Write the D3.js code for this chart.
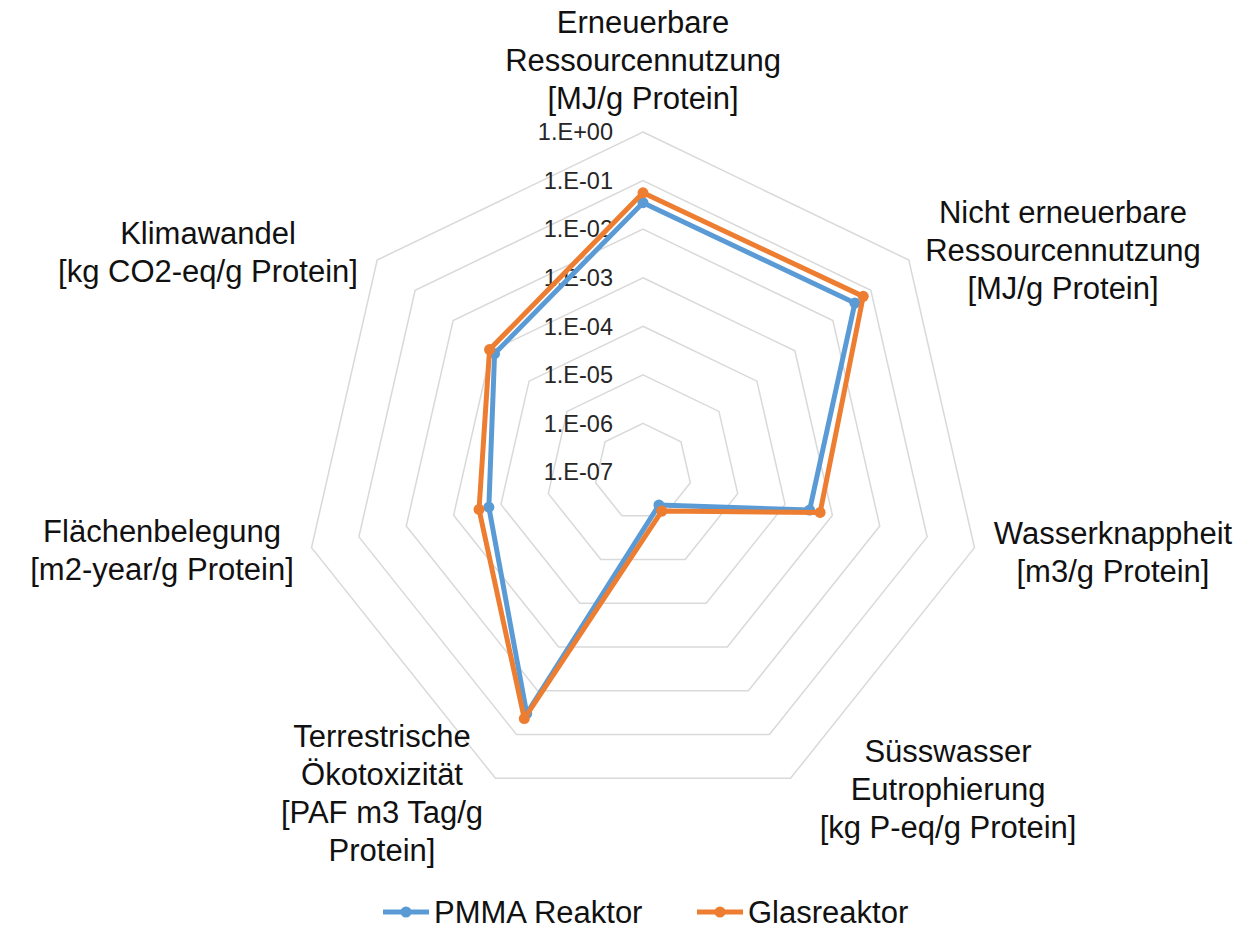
<!DOCTYPE html>
<html>
<head>
<meta charset="utf-8">
<script src="https://cdn.jsdelivr.net/npm/d3@7"></script>
<style>
  body { margin: 0; background: #fff; }
  text { font-family: "Liberation Sans", Arial, sans-serif; }
</style>
</head>
<body>
<div id="chart"></div>
<script>
// categories (one entry per axis, lines of the label)
var categories = [
  ["Erneuerbare", "Ressourcennutzung", "[MJ/g Protein]"],
  ["Nicht erneuerbare", "Ressourcennutzung", "[MJ/g Protein]"],
  ["Wasserknappheit", "[m3/g Protein]"],
  ["Süsswasser", "Eutrophierung", "[kg P-eq/g Protein]"],
  ["Terrestrische", "Ökotoxizität", "[PAF m3 Tag/g", "Protein]"],
  ["Flächenbelegung", "[m2-year/g Protein]"],
  ["Klimawandel", "[kg CO2-eq/g Protein]"]
];
var pmma = [0.035, 0.038, 3.3e-4, 5.7e-7, 0.033, 1.8e-4, 8.1e-4];
var glas = [0.056, 0.063, 5.5e-4, 7.8e-7, 0.043, 2.9e-4, 1.1e-3];
var tickValues = [1e-7, 1e-6, 1e-5, 1e-4, 1e-3, 1e-2, 1e-1, 1];
var tickLabels = ["1.E-07", "1.E-06", "1.E-05", "1.E-04", "1.E-03", "1.E-02", "1.E-01", "1.E+00"];
var seriesNames = ["PMMA Reaktor", "Glasreaktor"];
var colors = ["#5b9bd5", "#ed7d31"];

// label centres relative to chart centre
var labelOffsets = [[0, -412], [420, -222], [470, 80], [305, 317], [-261, 321], [-481, 78], [-435, -220]];

var w = 1260, h = 929;
var cx = 643, cy = 472, R = 340;
var n = categories.length;

var svg = d3.select('#chart')
  .append('svg')
    .attr('width', w)
    .attr('height', h);

var r = d3.scaleLog().domain([1e-7, 1]).range([0, R]);
var angle = i => -Math.PI / 2 + i * 2 * Math.PI / n;

var g = svg.append('g').attr('transform', 'translate(' + cx + ',' + cy + ')');

// grid rings
var ringLine = d3.lineRadial()
  .angle((d, i) => i * 2 * Math.PI / n)
  .radius(d => d)
  .curve(d3.curveLinearClosed);

g.selectAll('.ring')
  .data(tickValues.slice(1))
  .enter()
  .append('path')
    .attr('d', d => ringLine(d3.range(n).map(() => r(d))))
    .style('fill', 'none')
    .style('stroke', '#d9d9d9')
    .style('stroke-width', '1.5px');

// tick labels
g.selectAll('.tick')
  .data(tickValues)
  .enter()
  .append('text')
    .attr('x', -30)
    .attr('y', d => -r(d))
    .attr('dy', '0.35em')
    .attr('text-anchor', 'end')
    .style('font-size', '23.5px')
    .style('fill', '#262626')
    .text((d, i) => tickLabels[i]);

// series
var pt = (v, i) => [r(v) * Math.cos(angle(i)), r(v) * Math.sin(angle(i))];
[pmma, glas].forEach(function(series, s) {
  var pts = series.map(pt);
  g.append('path')
    .attr('d', d3.line().curve(d3.curveLinearClosed)(pts))
    .style('fill', 'none')
    .style('stroke', colors[s])
    .style('stroke-width', '5px')
    .style('stroke-linejoin', 'round');
  g.selectAll('.dot' + s)
    .data(pts)
    .enter()
    .append('circle')
      .attr('cx', d => d[0])
      .attr('cy', d => d[1])
      .attr('r', 5.5)
      .style('fill', colors[s]);
});

// category labels
categories.forEach(function(lines, i) {
  var off = labelOffsets[i];
  var t = g.append('text')
    .attr('text-anchor', 'middle')
    .style('font-size', '31px')
    .style('fill', '#111');
  lines.forEach(function(line, j) {
    t.append('tspan')
      .attr('x', off[0])
      .attr('y', off[1] + (j - (lines.length - 1) / 2) * 38)
      .attr('dy', '0.35em')
      .text(line);
  });
});

// legend
var legend = svg.append('g').attr('transform', 'translate(383,912)');
var lx = [0, 314];
seriesNames.forEach(function(name, s) {
  var lg = legend.append('g').attr('transform', 'translate(' + lx[s] + ',0)');
  lg.append('line')
    .attr('x1', 0).attr('x2', 46)
    .style('stroke', colors[s])
    .style('stroke-width', '5px');
  lg.append('circle')
    .attr('cx', 23).attr('r', 5.5)
    .style('fill', colors[s]);
  lg.append('text')
    .attr('x', 51)
    .attr('dy', '0.35em')
    .style('font-size', '31px')
    .style('fill', '#111')
    .text(name);
});
</script>
</body>
</html>
